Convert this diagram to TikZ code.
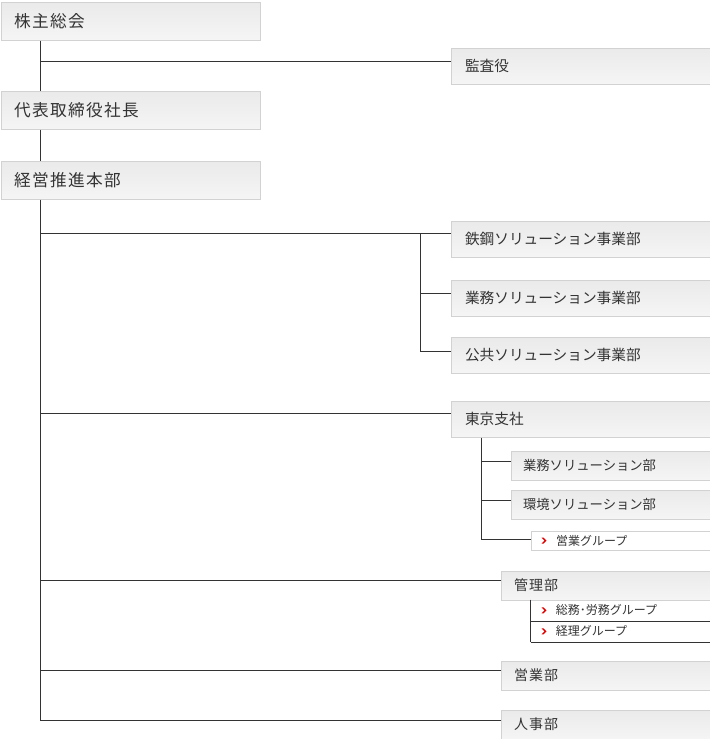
\documentclass[tikz,border=0pt]{standalone}
\usepackage{fontspec}
\newfontfamily\jpwide[LetterSpace=8]{Noto Sans CJK JP}
\newfontfamily\jpplain{Noto Sans CJK JP}
\usetikzlibrary{positioning}

\definecolor{linegray}{HTML}{333333}
\definecolor{textgray}{HTML}{333333}
\definecolor{boxline}{HTML}{D2D2D2}
\definecolor{boxtop}{HTML}{EAEAEA}
\definecolor{boxbot}{HTML}{F5F5F5}
\definecolor{tipred}{HTML}{E00000}

\begin{document}
\begin{tikzpicture}[x=0.75pt, y=-0.75pt,
  link/.style={draw=linegray, line width=0.75pt},
  box/.style={draw=boxline, line width=0.75pt, top color=boxtop, bottom color=boxbot,
    anchor=north west, inner ysep=0pt, align=left, text=textgray},
  topbox/.style={box, inner xsep=9.75pt, text width=174.75pt, minimum height=28.5pt,
    font=\jpwide\fontsize{12.5}{14}\selectfont},
  deptbox/.style={box, inner xsep=10.5pt, text width=173.25pt, minimum height=27pt,
    font=\jpplain\fontsize{11}{13}\selectfont},
  secbox/.style={box, inner xsep=9.75pt, text width=137.25pt, minimum height=21.75pt,
    font=\jpwide\fontsize{10.5}{12}\selectfont},
  unitbox/.style={box, inner xsep=9pt, text width=131.25pt, minimum height=21.75pt,
    font=\jpplain\fontsize{10}{12}\selectfont},
  grpbox/.style={anchor=north west, inner ysep=0pt, inner xsep=18.75pt, text width=96.75pt,
    align=left, text=textgray, font=\jpplain\fontsize{9}{11}\selectfont},
  redtip/.pic={\fill[tipred] (0,-3) -- (2,-3) -- (5,0) -- (2,3) -- (0,3) -- (3,0) -- cycle;},
]
\useasboundingbox (0,0) rectangle (710,739);

% left column
\node[topbox] (Shareholders) at (0.5,1.5) {株主総会};
\node[deptbox] (Auditor) at (450.5,47.5) {監査役};
\node[topbox] (President) at (0.5,90.5) {代表取締役社長};
\node[topbox] (Strategy) at (0.5,160.5) {経営推進本部};

% business divisions
\node[deptbox] (SteelDiv) at (450.5,220.5) {鉄鋼ソリューション事業部};
\node[deptbox] (BizDiv) at (450.5,279.5) {業務ソリューション事業部};
\node[deptbox] (PublicDiv) at (450.5,336.5) {公共ソリューション事業部};

% tokyo branch
\node[deptbox] (Tokyo) at (450.5,400.5) {東京支社};
\node[unitbox] (TokyoBiz) at (510.5,450.5) {業務ソリューション部};
\node[unitbox] (TokyoEnv) at (510.5,489.5) {環境ソリューション部};
\node[grpbox, draw=boxline, line width=0.75pt, minimum height=14.25pt] (TokyoSales) at (530.5,530.5) {営業グループ};

% administration and others
\node[secbox] (Admin) at (500.5,570.5) {管理部};
\node[grpbox, minimum height=15.75pt] (AdminGeneral) at (530.5,599.5) {総務･労務グループ};
\node[grpbox, minimum height=15.75pt] (AdminAccount) at (530.5,620.5) {経理グループ};
\node[secbox] (Sales) at (500.5,660.5) {営業部};
\node[secbox] (Personnel) at (500.5,709.5) {人事部};

\foreach \grp in {TokyoSales,AdminGeneral,AdminAccount}
  \pic at ([xshift=8.25pt]\grp.west) {redtip};

\coordinate (TrunkX) at (40.5,0);
\coordinate (AuditorJoint) at (40.5,61.5);
\coordinate (DivJoint) at (40.5,233.5);
\coordinate (TokyoJoint) at (40.5,413.5);
\coordinate (AdminJoint) at (40.5,580.5);
\coordinate (SalesJoint) at (40.5,670.5);
\coordinate (TrunkEnd) at (40.5,720.5);
\coordinate (BracketX) at (420.5,0);
\coordinate (BizJoint) at (420.5,293.5);
\coordinate (PublicJoint) at (420.5,351.5);
\coordinate (TokyoX) at (481.5,0);
\coordinate (TokyoBizJoint) at (481.5,461.5);
\coordinate (TokyoEnvJoint) at (481.5,500.5);
\coordinate (TokyoSalesJoint) at (481.5,539.5);

\draw[link] (Shareholders.south -| TrunkX) -- (President.north -| TrunkX);
\draw[link] (AuditorJoint) -- (AuditorJoint -| Auditor.west);
\draw[link] (President.south -| TrunkX) -- (Strategy.north -| TrunkX);
\draw[link] (Strategy.south -| TrunkX) -- (TrunkEnd);

\draw[link] (DivJoint) -- (DivJoint -| SteelDiv.west);
\draw[link] (DivJoint -| BracketX) -- (PublicJoint);
\draw[link] (BizJoint) -- (BizJoint -| BizDiv.west);
\draw[link] (PublicJoint) -- (PublicJoint -| PublicDiv.west);

\draw[link] (TokyoJoint) -- (TokyoJoint -| Tokyo.west);
\draw[link] (Tokyo.south -| TokyoX) -- (TokyoSalesJoint);
\draw[link] (TokyoBizJoint) -- (TokyoBizJoint -| TokyoBiz.west);
\draw[link] (TokyoEnvJoint) -- (TokyoEnvJoint -| TokyoEnv.west);
\draw[link] (TokyoSalesJoint) -- (TokyoSalesJoint -| TokyoSales.west);

\draw[link] (AdminJoint) -- (AdminJoint -| Admin.west);
\draw[link] (AdminGeneral.north west) -- (AdminAccount.south west);
\draw[link] (AdminGeneral.south west) -- (AdminGeneral.south east);
\draw[link] (AdminAccount.south west) -- (AdminAccount.south east);
\draw[link] (SalesJoint) -- (SalesJoint -| Sales.west);
\draw[link] (TrunkEnd) -- (TrunkEnd -| Personnel.west);
\end{tikzpicture}
\end{document}
